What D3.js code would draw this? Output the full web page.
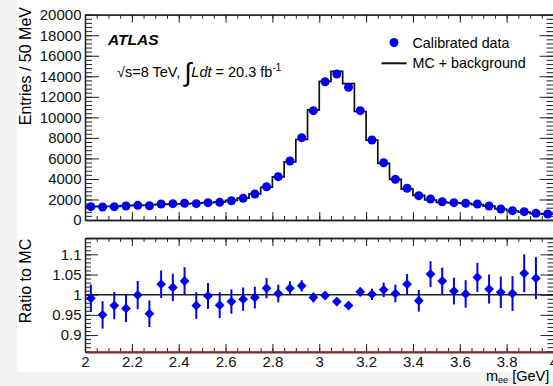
<!DOCTYPE html>
<html><head><meta charset="utf-8">
<script src="https://cdn.jsdelivr.net/npm/d3@7"></script>
<style>
html,body{margin:0;padding:0;background:#fff;}
svg{display:block;font-family:"Liberation Sans",Arial,Helvetica,sans-serif;}
</style></head>
<body>
<svg id="c" width="553" height="386"></svg>
<script>
// ---- data ----
const binLow = [2.00,2.05,2.10,2.15,2.20,2.25,2.30,2.35,2.40,2.45,2.50,2.55,2.60,2.65,2.70,2.75,2.80,2.85,2.90,2.95,
                3.00,3.05,3.10,3.15,3.20,3.25,3.30,3.35,3.40,3.45,3.50,3.55,3.60,3.65,3.70,3.75,3.80,3.85,3.90,3.95];
const binWidth = 0.05;
const dataEntries = [1300,1270,1300,1360,1430,1390,1560,1590,1630,1590,1690,1720,1880,2110,2530,3240,4220,5750,8020,10650,
                     13470,14220,12930,10650,7790,5580,3960,3090,2370,2050,1780,1690,1630,1560,1360,1070,910,810,650,580];
const mcEntries = [1310,1330,1330,1410,1430,1460,1520,1560,1570,1630,1690,1770,1910,2140,2550,3190,4200,5660,7840,10720,
                   13500,14470,13280,10570,7780,5520,3950,3010,2400,1950,1720,1670,1620,1490,1350,1070,900,770,630,580];
const ratioValues = [0.991,0.950,0.973,0.966,0.999,0.953,1.026,1.018,1.034,0.973,0.997,0.974,0.983,0.989,0.993,1.016,1.003,1.016,1.022,0.993,
                     0.998,0.983,0.973,1.007,1.001,1.012,1.003,1.026,0.985,1.051,1.034,1.009,1.002,1.043,1.014,1.006,1.003,1.053,1.041];
const ratioErrors = [0.034,0.034,0.034,0.034,0.035,0.033,0.034,0.034,0.034,0.033,0.032,0.032,0.030,0.029,0.027,0.025,0.022,0.017,0.014,0.012,
                     0.010,0.010,0.010,0.011,0.014,0.018,0.022,0.025,0.027,0.032,0.033,0.033,0.034,0.036,0.036,0.039,0.043,0.047,0.052];
const xTicks = [2,2.2,2.4,2.6,2.8,3,3.2,3.4,3.6,3.8,4];
const yTopTicks = [0,2000,4000,6000,8000,10000,12000,14000,16000,18000,20000];
const yRatioTicks = [0.9,0.95,1,1.05,1.1];

// ---- layout ----
const svg = d3.select("#c");
const L = 85, R = 553.5;
const topT = 14.7, topB = 220;
const ratT = 238, ratB = 352;
const blue = "#0000f0";

svg.append("rect").attr("x",0).attr("y",0).attr("width",553).attr("height",386).attr("fill","#f2f2f2");
svg.append("rect").attr("x",17).attr("y",0).attr("width",536).attr("height",372).attr("fill","#ffffff");

const x = d3.scaleLinear().domain([2,4]).range([L,R]);
const yT = d3.scaleLinear().domain([0,20000]).range([topB,topT]);
const yR = d3.scaleLinear().domain([0.858,1.1405]).range([ratB,ratT]);

const font = "Liberation Sans, Arial, sans-serif";

function styleAxis(g){
  g.select(".domain").attr("stroke","#222").attr("stroke-width",1.3);
  g.selectAll(".tick line").attr("stroke","#222").attr("stroke-width",1);
  g.selectAll("text").attr("font-family",font).attr("font-size",15).attr("fill","#111");
}

function frame(yScale, top, bottom, yMajor, yMinorStep, yMajLen, yMinLen, withXLabels){
  const xMinor = d3.range(0,41).map(i=>2+i*0.05);
  svg.append("g").attr("transform",`translate(0,${bottom})`)
    .call(d3.axisBottom(x).tickValues(xMinor).tickSize(-4).tickSizeOuter(0).tickFormat("")).call(styleAxis);
  svg.append("g").attr("transform",`translate(0,${bottom})`)
    .call(d3.axisBottom(x).tickValues(xTicks).tickSize(-8).tickSizeOuter(0)
      .tickPadding(withXLabels?4:0).tickFormat(withXLabels?d3.format("~g"):""))
    .call(styleAxis);
  svg.append("g").attr("transform",`translate(0,${top})`)
    .call(d3.axisTop(x).tickValues(xMinor).tickSize(-4).tickSizeOuter(0).tickFormat("")).call(styleAxis);
  svg.append("g").attr("transform",`translate(0,${top})`)
    .call(d3.axisTop(x).tickValues(xTicks).tickSize(-8).tickSizeOuter(0).tickFormat("")).call(styleAxis);
  const [d0,d1] = yScale.domain();
  const yMinor = d3.range(Math.ceil(d0/yMinorStep-1e-9), Math.floor(d1/yMinorStep+1e-9)+1).map(i=>+(i*yMinorStep).toFixed(6));
  svg.append("g").attr("transform",`translate(${L},0)`)
    .call(d3.axisLeft(yScale).tickValues(yMinor).tickSize(-yMinLen).tickSizeOuter(0).tickFormat("")).call(styleAxis);
  svg.append("g").attr("transform",`translate(${L},0)`)
    .call(d3.axisLeft(yScale).tickValues(yMajor).tickSize(-yMajLen).tickSizeOuter(0).tickPadding(3.5).tickFormat(d3.format("~g")))
    .call(styleAxis);
  svg.append("g").attr("transform",`translate(${R},0)`)
    .call(d3.axisRight(yScale).tickValues(yMinor).tickSize(-yMinLen).tickSizeOuter(0).tickFormat("")).call(styleAxis);
  svg.append("g").attr("transform",`translate(${R},0)`)
    .call(d3.axisRight(yScale).tickValues(yMajor).tickSize(-yMajLen).tickSizeOuter(0).tickFormat("")).call(styleAxis);
}

// ---- top panel ----
frame(yT, topT, topB, yTopTicks, 400, 14, 7, false);

const stepPts = [];
binLow.forEach((lo,i)=>{
  stepPts.push([x(lo), yT(mcEntries[i])]);
  stepPts.push([x(lo+binWidth), yT(mcEntries[i])]);
});
svg.append("path").attr("d", d3.line()(stepPts))
  .attr("fill","none").attr("stroke","#111").attr("stroke-width",1.7);

svg.append("g").selectAll("circle").data(dataEntries).join("circle")
  .attr("cx",(d,i)=>x(binLow[i]+binWidth/2)).attr("cy",d=>yT(d))
  .attr("r",4.5).attr("fill",blue);

svg.append("text").attr("x",108).attr("y",45).attr("font-family",font)
  .attr("font-size",15.5).attr("font-weight","bold").attr("font-style","italic").text("ATLAS");
const lum = svg.append("text").attr("x",117).attr("y",77).attr("font-family",font).attr("font-size",14.5);
lum.append("tspan").text("\u221As=8 TeV, ");
lum.append("tspan").attr("font-size",26).attr("dy",4).text("\u222B");
lum.append("tspan").attr("dy",-4).attr("font-style","italic").text("Ldt");
lum.append("tspan").text(" = 20.3 fb");
lum.append("tspan").attr("font-size",10).attr("dy",-6).text("-1");

svg.append("circle").attr("cx",394).attr("cy",42.5).attr("r",4.5).attr("fill",blue);
svg.append("text").attr("x",412.5).attr("y",47.5).attr("font-family",font).attr("font-size",14.3).text("Calibrated data");
svg.append("line").attr("x1",381.5).attr("x2",406.5).attr("y1",63.3).attr("y2",63.3).attr("stroke","#111").attr("stroke-width",2);
svg.append("text").attr("x",412.5).attr("y",68).attr("font-family",font).attr("font-size",14.3).text("MC + background");

svg.append("text").attr("transform","translate(31,7) rotate(-90)").attr("text-anchor","end")
  .attr("font-family",font).attr("font-size",16).text("Entries / 50 MeV");

// ---- ratio panel ----
frame(yR, ratT, ratB, yRatioTicks, 0.01, 13, 6, true);

svg.append("line").attr("x1",L).attr("x2",R).attr("y1",yR(1)).attr("y2",yR(1))
  .attr("stroke","#222").attr("stroke-width",1.6);
svg.append("line").attr("x1",L).attr("x2",R).attr("y1",ratB).attr("y2",ratB)
  .attr("stroke","#b02a2a").attr("stroke-width",1.6);

const rg = svg.append("g");
rg.selectAll("line").data(ratioValues).join("line")
  .attr("x1",(d,i)=>x(binLow[i]+binWidth/2)).attr("x2",(d,i)=>x(binLow[i]+binWidth/2))
  .attr("y1",(d,i)=>yR(d-ratioErrors[i])).attr("y2",(d,i)=>yR(d+ratioErrors[i]))
  .attr("stroke",blue).attr("stroke-width",2);
rg.selectAll("path").data(ratioValues).join("path")
  .attr("d", d3.symbol().type(d3.symbolSquare).size(48))
  .attr("transform",(d,i)=>`translate(${x(binLow[i]+binWidth/2)},${yR(d)}) rotate(45)`)
  .attr("fill",blue);

svg.append("text").attr("transform","translate(31,281) rotate(-90)").attr("text-anchor","middle")
  .attr("font-family",font).attr("font-size",16).text("Ratio to MC");

const xt = svg.append("text").attr("x",486).attr("y",380.5).attr("font-family",font).attr("font-size",14.5);
xt.append("tspan").text("m");
xt.append("tspan").attr("font-size",9).attr("dy",2.5).text("ee");
xt.append("tspan").attr("dy",-2.5).text(" [GeV]");
</script>
</body></html>
